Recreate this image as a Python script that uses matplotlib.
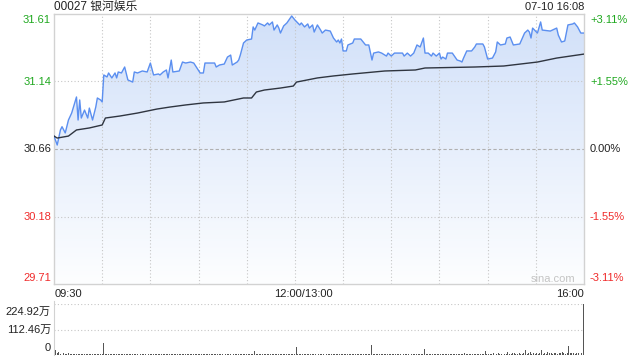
import numpy as np
import matplotlib
matplotlib.use("Agg")
import matplotlib.pyplot as plt
from matplotlib.colors import LinearSegmentedColormap

plt.rcParams['font.family'] = ['Liberation Sans', 'Noto Sans CJK SC', 'DejaVu Sans']

# ---------------- data ----------------
title_text = "00027 银河娱乐"
stamp_text = "07-10 16:08"
prev_close = 30.66
price_ticks = [31.61, 31.14, 30.66, 30.18, 29.71]
pct_ticks = ["+3.11%", "+1.55%", "0.00%", "-1.55%", "-3.11%"]
x_tick_labels = ["09:30", "12:00/13:00", "16:00"]
vol_tick_labels = ["224.92万", "112.46万", "0"]
vol_max = 224.92

# trading-minute offsets from 09:30 (150 = 12:00/13:00, 330 = 16:00)
price_min = [0, 2, 4, 5, 7, 9, 11, 14, 15, 16, 17, 19, 21, 22, 24, 26, 27, 29, 30,
             31, 33, 34, 36, 38, 39, 40, 42, 44, 46, 49, 50, 52, 55, 58, 60, 62, 65,
             66, 68, 70, 71, 73, 74, 78, 80, 82, 85, 87, 89, 91, 93, 94, 100, 101,
             103, 106, 108, 110, 111, 114, 115, 116, 118, 120, 123, 124, 125, 127,
             130, 131, 133, 134, 136, 137, 139, 140, 141, 143, 145, 148, 150,
             153, 154, 156, 158, 159, 161, 162, 164, 166, 167, 169, 172, 174, 176,
             177, 178, 179, 180, 182, 183, 186, 187, 191, 194, 196, 198, 199, 202,
             204, 207, 208, 210, 212, 217, 218, 220, 222, 224, 226, 228, 230, 231,
             233, 235, 236, 238, 240, 241, 242, 244, 245, 248, 251, 253, 254, 255,
             257, 260, 262, 263, 267, 268, 270, 273, 275, 276, 278, 281, 282, 284,
             286, 290, 293, 295, 296, 297, 298, 301, 303, 304, 309, 313, 314, 316,
             318, 320, 323, 324, 326, 328, 330]
price = [30.751, 30.688, 30.794, 30.817, 30.773, 30.864, 30.913, 31.026, 30.864,
         31.005, 30.878, 30.934, 30.878, 30.948, 30.864, 30.955, 31.019, 31.005,
         30.991, 31.181, 31.167, 31.195, 31.160, 31.195, 31.160, 31.202, 31.195,
         31.237, 31.146, 31.131, 31.202, 31.195, 31.209, 31.202, 31.265, 31.181,
         31.188, 31.181, 31.202, 31.216, 31.160, 31.286, 31.202, 31.209, 31.272,
         31.265, 31.272, 31.265, 31.230, 31.195, 31.195, 31.265, 31.265, 31.237,
         31.251, 31.258, 31.307, 31.321, 31.251, 31.272, 31.286, 31.321, 31.406,
         31.427, 31.434, 31.519, 31.497, 31.547, 31.533, 31.526, 31.547, 31.533,
         31.554, 31.497, 31.533, 31.511, 31.476, 31.526, 31.547, 31.596, 31.568,
         31.533, 31.547, 31.519, 31.540, 31.511, 31.533, 31.483, 31.533, 31.497,
         31.476, 31.497, 31.490, 31.441, 31.413, 31.427, 31.406, 31.434, 31.350,
         31.350, 31.392, 31.406, 31.434, 31.434, 31.392, 31.392, 31.286, 31.335,
         31.343, 31.335, 31.314, 31.335, 31.314, 31.335, 31.335, 31.314, 31.335,
         31.314, 31.335, 31.392, 31.378, 31.441, 31.335, 31.335, 31.314, 31.335,
         31.314, 31.335, 31.293, 31.307, 31.293, 31.335, 31.335, 31.286, 31.279,
         31.272, 31.300, 31.350, 31.350, 31.378, 31.399, 31.399, 31.378, 31.293,
         31.300, 31.343, 31.413, 31.392, 31.399, 31.441, 31.448, 31.392, 31.399,
         31.476, 31.497, 31.483, 31.441, 31.511, 31.476, 31.554, 31.497, 31.490,
         31.511, 31.462, 31.413, 31.420, 31.533, 31.540, 31.547, 31.519, 31.476,
         31.476]

avg_min = [0, 2, 9, 14, 22, 30, 32, 41, 52, 64, 72, 82, 93, 106, 118, 123, 126,
           131, 141, 149, 151, 164, 174, 186, 206, 225, 231, 262, 280, 301, 313, 330]
avg_price = [30.751, 30.737, 30.751, 30.794, 30.808, 30.829, 30.878, 30.892,
             30.913, 30.941, 30.955, 30.970, 30.984, 30.991, 31.019, 31.019,
             31.061, 31.075, 31.089, 31.103, 31.131, 31.160, 31.174, 31.188,
             31.209, 31.216, 31.230, 31.237, 31.244, 31.272, 31.300, 31.328]

# per-minute volume, in 万 shares
volume = [30, 22, 8, 12, 6, 5, 9, 4, 5, 7, 4, 6, 3, 5, 4, 6, 3, 4, 5, 3, 4, 3, 5, 4, 3, 4, 5, 3, 4, 6,
          5, 53, 6, 4, 3, 5, 4, 3, 4, 5, 3, 4, 3, 5, 4, 3, 4, 3, 5, 3, 4, 3, 4, 5, 3, 4, 3, 4, 3, 5,
          4, 3, 5, 3, 4, 3, 4, 3, 5, 4, 3, 4, 6, 3, 4, 3, 4, 3, 5, 3, 4, 3, 4, 3, 5, 4, 3, 4, 3, 4,
          3, 4, 5, 3, 4, 3, 4, 3, 4, 5, 3, 4, 3, 4, 3, 5, 4, 3, 6, 4, 3, 4, 3, 5, 4, 3, 4, 3, 4, 3,
          4, 3, 5, 4, 6, 18, 4, 5, 3, 4, 6, 3, 4, 5, 3, 4, 3, 5, 4, 3, 4, 3, 5, 3, 4, 3, 4, 5, 3, 4, 6,
          35, 6, 4, 5, 3, 4, 3, 5, 4, 3, 4, 3, 5, 3, 4, 3, 4, 5, 3, 4, 3, 4, 3, 5, 4, 3, 4, 3, 4, 5,
          3, 4, 3, 5, 4, 3, 4, 3, 5, 4, 3, 4, 5, 3, 4, 3, 4, 44, 5, 4, 3, 4, 3, 5, 4, 3, 4, 3, 5, 4,
          3, 4, 5, 3, 4, 3, 5, 4, 3, 4, 5, 3, 4, 6, 3, 4, 3, 5, 4, 3, 25, 5, 4, 3, 4, 6, 3, 4, 5, 3,
          4, 3, 5, 4, 6, 3, 4, 5, 3, 4, 6, 3, 4, 5, 3, 7, 4, 5, 3, 4, 5, 6, 3, 4, 5, 3, 6, 4, 16, 5,
          6, 4, 5, 7, 4, 6, 9, 5, 4, 8, 6, 5, 12, 6, 4, 7, 10, 5, 6, 8, 4, 6, 9, 22, 5, 7, 12, 6, 8, 5,
          7, 6, 10, 22, 6, 8, 5, 12, 7, 9, 6, 11, 8, 6, 9, 7, 12, 8, 6, 10, 40, 8, 7, 9, 6, 8, 10, 7, 9,
          224.92]

# ---------------- styling ----------------
GREEN = '#1fa81f'
RED = '#f02b2b'
BLACK = '#222222'
GRID = '#c6c6c6'
FRAME = '#d2d2d2'
LINE = '#5b8ff0'
AVG = '#2f3540'
FS = 8

W, H = 640, 360
fig = plt.figure(figsize=(W / 100, H / 100), dpi=100)

def fx(px):
    return px / W

def fy(py):
    return 1 - py / H

L, R, T, B = 54, 584, 14, 284
ax = fig.add_axes([fx(L), fy(B), fx(R - L), fy(T) - fy(B)])
ymin, ymax = price_ticks[-1], price_ticks[0]
ax.set_xlim(0, 330)
ax.set_ylim(ymin, ymax)

# gradient fill under the price line
grad = LinearSegmentedColormap.from_list('g', ['#fdfeff', '#d1e0f9'])
img = ax.imshow(np.linspace(0, 1, 256).reshape(-1, 1), aspect='auto', cmap=grad,
                extent=[0, 330, ymin, ymax], origin='lower', zorder=1)
poly = ax.fill_between(price_min, price, ymin, facecolor='none', edgecolor='none')
img.set_clip_path(poly.get_paths()[0], transform=ax.transData)

ax.plot(price_min, price, color=LINE, lw=1.0, zorder=3)
ax.plot(avg_min, avg_price, color=AVG, lw=1.0, zorder=3)

# grid
for v in range(30, 330, 30):
    ax.axvline(v, color=GRID, lw=0.8, ls=(0, (1, 2)), zorder=2)
for p in price_ticks[1:-1]:
    if p == prev_close:
        ax.axhline(p, color='#b0b0b0', lw=0.8, ls=(0, (3, 2)), zorder=2)
    else:
        ax.axhline(p, color=GRID, lw=0.8, ls=(0, (1, 2)), zorder=2)

ax.set_xticks([])
ax.set_yticks([])
for s in ax.spines.values():
    s.set_color(FRAME)
    s.set_linewidth(1.0)

# y labels (left price, right percent)
label_py = [20, 82, 149, 217, 278]
for p, pc, py in zip(price_ticks, pct_ticks, label_py):
    c = GREEN if p > prev_close else (RED if p < prev_close else BLACK)
    fig.text(fx(51), fy(py), f"{p:.2f}", color=c, fontsize=FS, ha='right', va='center')
    fig.text(fx(590), fy(py), pc, color=c, fontsize=FS, ha='left', va='center')

# x labels
fig.text(fx(L + 1), fy(294), x_tick_labels[0], color=BLACK, fontsize=FS, ha='left', va='center')
fig.text(fx(L + (R - L) * 150 / 330 + 8), fy(294), x_tick_labels[1], color=BLACK,
         fontsize=FS, ha='center', va='center')
fig.text(fx(R), fy(294), x_tick_labels[2], color=BLACK, fontsize=FS, ha='right', va='center')

# title & stamp
fig.text(fx(L), fy(7), title_text, color=BLACK, fontsize=FS + 0.5, ha='left', va='center')
fig.text(fx(R), fy(7), stamp_text, color=BLACK, fontsize=FS, ha='right', va='center')
fig.text(fx(553), fy(279), "sina.com", color='#c4c4c4', fontsize=FS, ha='center', va='center')

# volume panel
VT, VB = 304, 355
axv = fig.add_axes([fx(L), fy(VB), fx(R - L), fy(VT) - fy(VB)])
axv.set_xlim(0, 330.5)
axv.set_ylim(0, vol_max)
axv.bar(np.arange(len(volume)), volume, width=0.6, color='#555555', zorder=3, clip_on=False)
axv.axhline(vol_max, color=GRID, lw=0.8, ls=(0, (1, 2)))
axv.axhline(vol_max / 2, color=GRID, lw=0.8, ls=(0, (1, 2)))
axv.set_xticks([])
axv.set_yticks([])
for k in ['top', 'right', 'bottom']:
    axv.spines[k].set_visible(False)
axv.spines['left'].set_color(FRAME)
axv.spines['left'].set_bounds(0, vol_max * 1.05)
axv.spines['left'].set_clip_on(False)
for lab, py in zip(vol_tick_labels, [312, 330, 348]):
    fig.text(fx(51), fy(py), lab, color=BLACK, fontsize=FS, ha='right', va='center')

fig.savefig('out.png', dpi=100)
